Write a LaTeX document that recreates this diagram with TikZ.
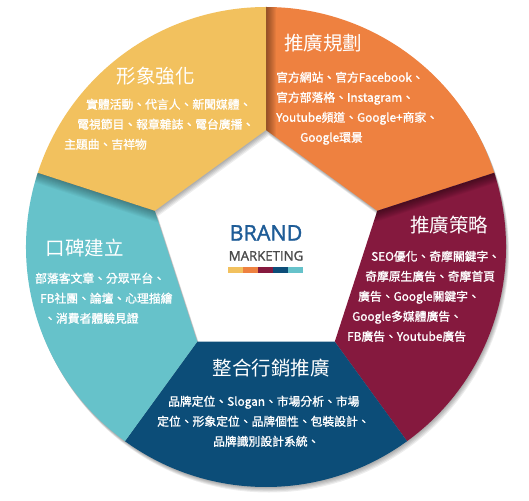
\documentclass[tikz,border=0pt]{standalone}
\usepackage{fontspec}
\newfontfamily\cjk{Noto Sans CJK TC}
\newfontfamily\cjkbody[FakeBold=1.3]{Noto Sans CJK TC}
\newfontfamily\brandfont[FakeBold=1.6]{Open Sans}
\definecolor{cyel}{HTML}{F2C15E}
\definecolor{cora}{HTML}{EE8140}
\definecolor{cmar}{HTML}{85193E}
\definecolor{cblu}{HTML}{0C4D78}
\definecolor{ctea}{HTML}{66C2CA}
\definecolor{cbrand}{HTML}{1E5C97}
\definecolor{cmkt}{HTML}{4A4A4A}
\newcommand\ringseg[2]{(#1:240) arc[start angle=#1, end angle=#2, radius=240] -- (#2:117) -- (#1:117) -- cycle}
\begin{document}
\begin{tikzpicture}[x=1pt,y=1pt,
  title/.style={font=\cjk\fontsize{19.5}{20}\selectfont, text=white, inner sep=0pt, text height=0.78em, text depth=0pt},
  body/.style={font=\cjkbody\fontsize{11.8}{14}\selectfont, text=white, anchor=west, inner sep=0pt, text height=0.75em, text depth=0pt},
  ringshadow/.style={fill=black, opacity=0.07, even odd rule}]
\useasboundingbox (-266,-253) rectangle (263,247);
\fill[white] (-266,-253) rectangle (263,247);
% drop shadow of ring
\foreach \k in {1,...,5}{
  \fill[ringshadow, xshift=\k*0.6pt, yshift=-\k*1.1pt] (0,0) circle (240) (90:117) -- (18:117) -- (-54:117) -- (-126:117) -- (162:117) -- cycle;
}
% segments
\fill[cora] \ringseg{90}{18};
\fill[cmar] \ringseg{18}{-54};
\fill[cblu] \ringseg{-54}{-126};
\fill[ctea] \ringseg{-126}{-198};
\fill[cyel] \ringseg{162}{90};
% inner shadows along boundaries
\begin{scope}
  \clip \ringseg{90}{18};
  \foreach \i in {1,...,10}{\fill[black,opacity=0.045,rotate=90] (100,0) rectangle (250,-\i);}
\end{scope}
\begin{scope}
  \clip \ringseg{18}{-54};
  \foreach \i in {1,...,10}{\fill[black,opacity=0.05,rotate=18] (100,0) rectangle (250,-\i);}
\end{scope}
\begin{scope}
  \clip \ringseg{-126}{-198};
  \foreach \i in {1,...,10}{\fill[black,opacity=0.035,rotate=162] (100,0) rectangle (250,\i);}
\end{scope}
% yellow
\node[title] (yt) at (-110,167) {形象強化};
\node[body] (y1) at (-180,142) {實體活動、代言人、新聞媒體、};
\node[body] (y2) at (-189,122) {電視節目、報章雜誌、電台廣播、};
\node[body] (y3) at (-202,102) {主題曲、吉祥物};
% orange
\node[title] (ot) at (57,200) {推廣規劃};
\node[body] (o1) at (10,169) {官方網站、官方Facebook、};
\node[body] (o2) at (10,149) {官方部落格、Instagram、};
\node[body] (o3) at (10,129) {Youtube頻道、Google+商家、};
\node[body] (o4) at (34,109) {Google環景};
% maroon
\node[title] (mt) at (183,18) {推廣策略};
\node[body] (m1) at (105,-10) {SEO優化、奇摩關鍵字、};
\node[body] (m2) at (99,-30) {奇摩原生廣告、奇摩首頁};
\node[body] (m3) at (92,-50) {廣告、Google關鍵字、};
\node[body] (m4) at (86,-70) {Google多媒體廣告、};
\node[body] (m5) at (81,-90) {FB廣告、Youtube廣告};
% teal
\node[title] (tt) at (-181,-5) {口碑建立};
\node[body] (t1) at (-231,-32) {部落客文章、分眾平台、};
\node[body] (t2) at (-226,-52) {FB社團、論壇、心理描繪};
\node[body] (t3) at (-222,-72) {、消費者體驗見證};
% blue
\node[title] (bt) at (5,-125) {整合行銷推廣};
\node[body] (b1) at (-98,-155) {品牌定位、Slogan、市場分析、市場};
\node[body] (b2) at (-109,-175) {定位、形象定位、品牌個性、包裝設計、};
\node[body] (b3) at (-53,-195) {品牌識別設計系統、};
% center
\node[inner sep=0pt, text=cbrand, font=\brandfont\fontsize{21.5}{24}\selectfont, text height=0.714em, text depth=0pt] (brand) at (0,10) {BRAND};
\node[inner sep=0pt, text=cmkt, font=\brandfont\fontsize{13.2}{15}\selectfont, text height=0.714em, text depth=0pt] (mkt) at (0,-10) {MARKETING};
\fill[cyel] (-38,-20) rectangle (-23,-26);
\fill[cora] (-23,-20) rectangle (-8,-26);
\fill[cmar] (-8,-20) rectangle (7,-26);
\fill[cblu] (7,-20) rectangle (22,-26);
\fill[ctea] (22,-20) rectangle (37,-26);
\end{tikzpicture}
\end{document}
